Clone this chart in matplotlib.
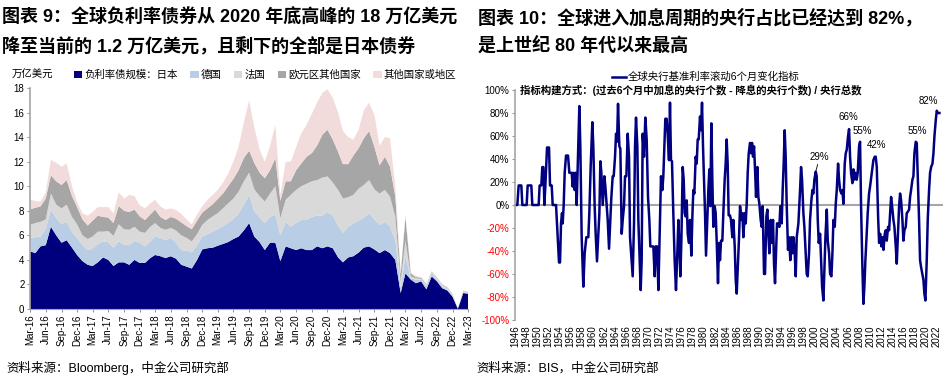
import numpy as np
import pandas as pd
import matplotlib
matplotlib.use('Agg')
import matplotlib.pyplot as plt
from matplotlib.patches import Patch
from matplotlib.lines import Line2D

# ---- left chart: negative-yield debt stock, monthly, trillion USD ----
start_month = '2016-03-01'
japan = [4.7, 4.55, 5.1, 5.2, 6.7, 6.0, 5.4, 5.6, 5.0, 4.4,
         3.9, 3.6, 3.5, 3.8, 4.2, 4.0, 3.5, 3.8, 3.8, 3.6,
         4.0, 3.75, 3.75, 4.15, 4.4, 4.3, 4.15, 4.3, 4.1, 3.6,
         3.45, 3.3, 4.0, 4.85, 4.95, 5.0, 5.15, 5.3, 5.45, 5.7,
         5.9, 6.4, 7.0, 5.9, 5.45, 4.8, 5.4, 5.4, 3.9, 5.1,
         4.95, 4.8, 4.95, 4.8, 4.8, 5.1, 4.95, 5.1, 4.95, 4.2,
         3.8, 4.2, 4.3, 4.6, 5.0, 5.1, 4.85, 4.55, 4.8, 4.55,
         4.0, 1.3, 2.9, 2.4, 2.1, 2.25, 1.6, 2.65, 2.25, 1.7,
         1.5, 1.0, 0.0, 1.3, 1.25]
germany = [1.1, 1.3, 0.8, 1.3, 1.4, 1.4, 1.5, 1.5, 1.3, 1.4,
           1.3, 1.2, 1.4, 1.5, 1.3, 1.45, 1.5, 1.7, 1.45, 1.6,
           1.55, 1.65, 1.35, 1.35, 1.5, 1.5, 1.45, 1.5, 1.3, 1.2,
           1.3, 1.3, 1.2, 1.05, 1.15, 1.3, 1.35, 1.45, 1.55, 1.65,
           1.85, 2.1, 2.3, 2.05, 2.0, 2.2, 2.1, 2.3, 2.1, 2.0,
           1.75, 2.2, 2.3, 2.45, 2.7, 2.5, 2.65, 2.8, 2.65, 2.6,
           2.4, 2.5, 2.65, 2.6, 2.45, 2.7, 2.45, 2.3, 2.3, 2.15,
           1.6, 0.4, 1.4, 0.1, 0.3, 0.15, 0.25, 0.25, 0.15, 0.15,
           0.1, 0.1, 0.0, 0.05, 0.05]
france = [1.05, 1.15, 1.2, 0.8, 1.3, 1.1, 1.3, 1.4, 1.2, 1.1,
          0.8, 0.9, 1.0, 1.0, 0.8, 0.9, 0.95, 1.4, 1.25, 1.25,
          1.15, 0.9, 1.1, 1.2, 1.1, 0.8, 0.85, 0.8, 1.0, 1.2,
          1.05, 0.9, 0.9, 0.95, 1.15, 1.25, 1.3, 1.45, 1.6, 1.65,
          1.8, 1.9, 1.8, 1.8, 1.75, 1.75, 1.9, 2.3, 1.4, 1.8,
          2.6, 2.7, 2.75, 2.95, 2.9, 2.9, 3.1, 2.9, 2.7, 2.9,
          2.8, 2.4, 2.35, 2.6, 2.65, 2.7, 2.45, 2.55, 2.6, 2.45,
          1.9, 0.5, 1.3, 0.15, 0.1, 0.05, 0.1, 0.1, 0.1, 0.1,
          0.1, 0.05, 0.0, 0.05, 0.05]
other_euro = [1.25, 1.25, 1.25, 1.7, 1.5, 1.9, 1.9, 2.0, 1.7, 1.4,
              1.3, 1.1, 1.3, 1.3, 1.2, 1.1, 1.05, 1.5, 1.5, 1.45,
              1.4, 1.25, 1.05, 1.0, 1.1, 0.9, 0.8, 0.9, 0.95, 1.05,
              0.95, 1.0, 1.1, 1.0, 0.95, 1.0, 1.15, 1.2, 1.4, 1.6,
              1.75, 1.9, 1.8, 2.15, 1.9, 1.9, 1.9, 2.3, 1.4, 1.5,
              1.1, 1.6, 1.85, 2.2, 2.3, 2.8, 3.5, 3.8, 3.5, 3.1,
              2.8, 2.7, 3.2, 3.3, 3.8, 4.0, 3.45, 2.3, 2.7, 2.45,
              1.65, 0.6, 1.9, 0.25, 0.1, 0.1, 0.05, 0.05, 0.05, 0.05,
              0.05, 0.05, 0.0, 0.05, 0.05]
others = [0.8, 0.55, 0.4, 0.5, 1.25, 1.5, 1.5, 1.35, 0.8, 0.4,
          0.5, 0.8, 0.7, 0.7, 0.8, 0.85, 0.8, 1.1, 1.0, 1.4,
          1.1, 0.9, 0.95, 0.9, 0.8, 0.85, 0.85, 0.7, 0.7, 0.7,
          0.55, 0.4, 0.5, 0.5, 0.7, 0.75, 0.75, 0.9, 1.0, 1.4,
          1.9, 2.9, 4.1, 2.9, 1.9, 1.35, 2.0, 2.7, 0.5, 1.6,
          1.6, 1.9, 2.45, 2.6, 3.2, 3.5, 3.4, 3.3, 3.4, 3.2,
          2.7, 2.2, 1.3, 1.5, 2.3, 2.3, 2.6, 1.6, 1.6, 2.3,
          0.85, 0.2, 0.2, 0.1, 0.1, 0.05, 0.05, 0.05, 0.05, 0.05,
          0.05, 0.0, 0.0, 0.05, 0.05]
left_labels = ['负利率债规模：日本', '德国', '法国', '欧元区其他国家', '其他国家或地区']
left_colors = ['#00007F', '#B9CDE5', '#D9D9D9', '#A6A6A6', '#F2DCDB']

# ---- right chart: share of central banks hiking minus cutting, rolling 6m ----
cb_year = [1946.00, 1946.42, 1946.66, 1947.14, 1947.32, 1948.10, 1948.28, 1948.94, 1949.12, 1950.26,
           1950.44, 1950.74, 1950.92, 1951.11, 1951.29, 1951.47, 1951.77, 1952.13, 1952.31, 1952.61,
           1952.79, 1953.39, 1953.75, 1953.93, 1954.11, 1954.29, 1954.47, 1954.59, 1954.77, 1954.95,
           1955.19, 1955.55, 1955.79, 1956.21, 1956.39, 1956.57, 1956.75, 1956.93, 1957.11, 1957.35,
           1957.59, 1957.77, 1958.01, 1958.31, 1958.55, 1958.85, 1959.21, 1959.39, 1959.63, 1959.93,
           1960.11, 1960.35, 1960.53, 1960.77, 1961.02, 1961.20, 1961.38, 1961.56, 1961.80, 1962.10,
           1962.28, 1962.52, 1962.70, 1962.94, 1963.12, 1963.36, 1963.60, 1963.78, 1964.02, 1964.20,
           1964.38, 1964.56, 1964.80, 1964.98, 1965.22, 1965.40, 1965.64, 1965.82, 1966.06, 1966.30,
           1966.54, 1966.72, 1966.96, 1967.20, 1967.44, 1967.62, 1967.80, 1968.04, 1968.22, 1968.46,
           1968.64, 1968.82, 1969.00, 1969.24, 1969.48, 1969.72, 1969.96, 1970.20, 1970.38, 1970.92,
           1971.16, 1971.35, 1971.59, 1971.83, 1972.12, 1972.30, 1972.54, 1972.72, 1972.90, 1973.08,
           1973.32, 1973.50, 1973.74, 1973.92, 1974.10, 1974.28, 1974.52, 1974.76, 1975.00, 1975.24,
           1975.43, 1975.61, 1975.79, 1975.97, 1976.21, 1976.39, 1976.57, 1976.75, 1976.93, 1977.11,
           1977.35, 1977.53, 1977.77, 1977.95, 1978.13, 1978.31, 1978.55, 1978.73, 1978.91, 1979.09,
           1979.33, 1979.51, 1979.69, 1979.87, 1980.05, 1980.23, 1980.41, 1980.59, 1980.83, 1981.01,
           1981.19, 1981.37, 1981.55, 1981.73, 1981.97, 1982.15, 1982.33, 1982.57, 1982.75, 1982.93,
           1983.11, 1983.35, 1983.53, 1983.77, 1983.95, 1984.13, 1984.31, 1984.49, 1984.73, 1984.91,
           1985.15, 1985.33, 1985.58, 1985.76, 1985.94, 1986.18, 1986.36, 1986.54, 1986.78, 1986.96,
           1987.14, 1987.38, 1987.56, 1987.74, 1987.92, 1988.10, 1988.34, 1988.52, 1988.70, 1988.88,
           1989.06, 1989.24, 1989.42, 1989.66, 1989.84, 1990.02, 1990.26, 1990.44, 1990.62, 1990.86,
           1991.04, 1991.28, 1991.46, 1991.64, 1991.82, 1992.06, 1992.24, 1992.48, 1992.66, 1992.84,
           1993.02, 1993.20, 1993.44, 1993.62, 1993.80, 1994.04, 1994.22, 1994.40, 1994.58, 1994.76,
           1994.94, 1995.18, 1995.36, 1995.60, 1995.79, 1995.97, 1996.15, 1996.39, 1996.57, 1996.75,
           1997.05, 1997.35, 1997.53, 1997.71, 1997.95, 1998.13, 1998.37, 1998.55, 1998.73, 1998.97,
           1999.15, 1999.39, 1999.57, 1999.75, 1999.93, 2000.17, 2000.35, 2000.54, 2000.72, 2000.96,
           2001.14, 2001.32, 2001.56, 2001.74, 2001.92, 2002.16, 2002.34, 2002.58, 2002.76, 2003.00,
           2003.18, 2003.36, 2003.60, 2003.78, 2003.96, 2004.20, 2004.38, 2004.56, 2004.80, 2004.98,
           2005.16, 2005.40, 2005.58, 2005.76, 2006.00, 2006.18, 2006.36, 2006.54, 2006.78, 2006.96,
           2007.14, 2007.38, 2007.56, 2007.74, 2007.98, 2008.16, 2008.34, 2008.58, 2008.76, 2008.94,
           2009.12, 2009.36, 2009.54, 2009.78, 2009.96, 2010.20, 2010.38, 2010.56, 2010.80, 2010.98,
           2011.17, 2011.41, 2011.59, 2011.77, 2012.01, 2012.19, 2012.37, 2012.61, 2012.79, 2012.97,
           2013.21, 2013.39, 2013.57, 2013.75, 2013.93, 2014.17, 2014.35, 2014.59, 2014.77, 2015.01,
           2015.19, 2015.37, 2015.55, 2015.79, 2015.97, 2016.15, 2016.39, 2016.57, 2016.75, 2016.99,
           2017.17, 2017.35, 2017.59, 2017.77, 2017.95, 2018.19, 2018.37, 2018.55, 2018.79, 2018.97,
           2019.15, 2019.39, 2019.57, 2019.75, 2019.93, 2020.17, 2020.35, 2020.59, 2020.77, 2020.96,
           2021.20, 2021.38, 2021.56, 2021.80, 2021.98, 2022.16, 2022.46]
cb_index = [0, 0, 17, 17, 0, 0, 17, 17, 0, 0,
            17, 17, 33, 33, 0, 17, 50, 50, 17, 17,
            0, 0, -33, -50, -50, -16, -7, -16, 0, 28,
            43, 43, 28, 28, 16, 28, 13, 28, 0, 42,
            86, 51, -28, -71, -42, -28, -28, -7, 33, 72,
            51, -1, -25, -49, -25, -7, 38, 28, 0, 25,
            16, 0, -13, -38, -19, 7, 25, 25, 42, 62,
            55, 88, 51, 49, -25, -13, -1, 25, 25, 62,
            42, -28, -45, -62, -16, 51, 76, 51, -13, -48,
            -74, -48, 62, 42, 76, 57, 7, -13, -36, -36,
            -62, -36, -36, -74, -13, 25, 13, 25, 51, 75,
            75, 62, 39, 89, 39, 38, -7, -48, -74, -42,
            -13, -36, -62, -31, 33, 22, -7, -10, 4, -25,
            -33, -13, -44, -10, 13, 10, 42, 36, 57, 57,
            77, 65, 89, 51, 22, -7, -44, -19, 13, 31,
            -1, 71, 22, -19, -1, -7, -31, -68, -33, -48,
            -31, -31, -7, 22, 36, 57, 36, -9, -9, -13,
            -28, -13, -36, -65, -77, -48, -28, -1, -13, -7,
            -28, -7, -16, 1, 28, 45, 54, 45, 54, 42,
            51, 31, 7, 33, 7, 1, -13, -19, -1, -60,
            -60, -10, -4, -25, -42, -13, -33, -13, -51, -68,
            -42, -16, -16, -19, -1, -16, 13, 36, 65, 42,
            1, -39, -28, -48, -28, -42, -28, -42, -62, -28,
            -16, 13, 33, 22, -7, -19, -42, -60, -62, -42,
            -13, 4, 13, 10, 22, 29, 25, -13, -33, -25,
            -48, -71, -83, -54, -28, -4, -31, -42, -60, -62,
            -42, -13, -19, 1, 13, 36, 22, 13, 10, 13,
            1, 36, 45, 48, 60, 66, 42, 28, 19, 31,
            22, 28, 22, 28, 51, 55, -1, -54, -86, -71,
            -48, -25, -7, 10, 16, 25, 31, 39, 42, 42,
            33, -10, -33, -25, -36, -28, -39, -25, -22, -31,
            -19, -22, -7, 7, -1, -13, -19, -36, -51, -22,
            -1, 10, 4, -13, -31, -22, -19, -7, -6, -4,
            7, 13, 22, 25, 45, 55, 54, 25, -13, -48,
            -54, -60, -65, -77, -83, -48, -13, 13, 28, 33,
            36, 45, 60, 74, 82, 80, 80]
peak_years = [2000.17, 2006.18, 2008.16, 2010.98, 2018.19, 2021.98]
peak_vals = [29, 66, 55, 42, 55, 82]
peak_labels = ['29%', '66%', '55%', '42%', '55%', '82%']

plt.rcParams['font.family'] = ['Liberation Sans', 'Noto Sans CJK SC']
plt.rcParams['axes.unicode_minus'] = False

W, H = 952, 390
fig = plt.figure(figsize=(W / 100, H / 100), dpi=100)


def fx(px):
    return px / W


def fy(py):
    return 1 - py / H


# titles
fig.text(fx(2), fy(18), '图表 9：全球负利率债券从 2020 年底高峰的 18 万亿美元',
         fontsize=13, fontweight='bold', va='center')
fig.text(fx(2), fy(46), '降至当前的 1.2 万亿美元，且剩下的全部是日本债券',
         fontsize=13, fontweight='bold', va='center')
fig.text(fx(478), fy(18), '图表 10：全球进入加息周期的央行占比已经达到 82%，',
         fontsize=13, fontweight='bold', va='center')
fig.text(fx(478), fy(46), '是上世纪 80 年代以来最高',
         fontsize=13, fontweight='bold', va='center')

# ---------------- left chart ----------------
ax1 = fig.add_axes([fx(30), fy(309), fx(438), (309 - 88) / H])
dates = pd.date_range(start_month, periods=len(japan), freq='MS')
ax1.stackplot(dates, japan, germany, france, other_euro, others,
              colors=left_colors, linewidth=0)
ax1.set_xlim(dates[0], dates[-1])
ax1.set_ylim(0, 18)
ax1.set_yticks(np.arange(0, 19, 2))
qtr = dates[::3]
ax1.set_xticks(qtr)
ax1.set_xticklabels([d.strftime('%b-%y') for d in qtr], rotation=90)
ax1.tick_params(axis='both', labelsize=7, length=2, width=0.6, color='#808080', pad=2)
for s in ['top', 'right']:
    ax1.spines[s].set_visible(False)
ax1.spines['left'].set_color('#A6A6A6')
ax1.spines['left'].set_linewidth(1.2)
ax1.spines['bottom'].set_color('#A6A6A6')
ax1.spines['bottom'].set_linewidth(0.8)

fig.text(fx(12), fy(75), '万亿美元', fontsize=7.5, va='center')
handles = [Patch(facecolor=c, edgecolor='none') for c in left_colors]
fig.legend(handles, left_labels, loc='center left', bbox_to_anchor=(fx(74), fy(75)),
           ncol=5, frameon=False, fontsize=7.5, handlelength=0.8, handleheight=0.8,
           handletextpad=0.2, columnspacing=1.2, borderaxespad=0, borderpad=0)

# ---------------- right chart ----------------
ax2 = fig.add_axes([fx(515), fy(320), fx(428), (320 - 90) / H])
ax2.axhline(0, color='#A6A6A6', lw=1.5, zorder=1)
ax2.plot(cb_year, cb_index, color='#000080', lw=1.8, zorder=2)
ax2.set_xlim(1946, 2023.1)
ax2.set_ylim(-100, 100)
yt = np.arange(-100, 101, 20)
ax2.set_yticks(yt)
ax2.set_yticklabels([f'{v}%' for v in yt])
for lab, v in zip(ax2.get_yticklabels(), yt):
    if v < 0:
        lab.set_color('#FF0000')
xt = np.arange(1946, 2023, 2)
ax2.set_xticks(xt)
ax2.set_xticklabels([str(v) for v in xt], rotation=90)
ax2.tick_params(axis='y', labelsize=7, length=2, width=0.6, color='#808080', pad=2)
ax2.tick_params(axis='x', labelsize=7, length=0, pad=4)
for s in ['top', 'right', 'bottom']:
    ax2.spines[s].set_visible(False)
ax2.spines['left'].set_color('#A6A6A6')
ax2.spines['left'].set_linewidth(1.2)

offsets = [(4, 10), (-1, 7), (2, 6), (1, 7), (2, 6), (-8, 5)]
for yr, v, lab, (dx, dy) in zip(peak_years, peak_vals, peak_labels, offsets):
    if lab == '29%':
        ax2.annotate(lab, xy=(yr, v), xytext=(dx * 0.72, dy * 0.72), textcoords='offset points',
                     ha='center', va='bottom', fontsize=7,
                     arrowprops=dict(arrowstyle='-', lw=0.6, color='black', shrinkA=0, shrinkB=0))
    else:
        ax2.annotate(lab, xy=(yr, v), xytext=(dx * 0.72, dy * 0.72), textcoords='offset points',
                     ha='center', va='bottom', fontsize=7)

fig.legend([Line2D([0], [0], color='#000080', lw=1.8)], ['全球央行基准利率滚动6个月变化指标'],
           loc='center left', bbox_to_anchor=(fx(612), fy(77)), frameon=False, fontsize=7.5,
           handlelength=1.3, handletextpad=0.2, borderaxespad=0, borderpad=0)
fig.text(fx(520), fy(90), '指标构建方式：(过去6个月中加息的央行个数 - 降息的央行个数) / 央行总数',
         fontsize=7.5, fontweight='bold', va='center')

# sources
fig.text(fx(6), fy(368), '资料来源：Bloomberg，中金公司研究部', fontsize=9, va='center')
fig.text(fx(476), fy(368), '资料来源：BIS，中金公司研究部', fontsize=9, va='center')

fig.savefig('out.png', dpi=100)
